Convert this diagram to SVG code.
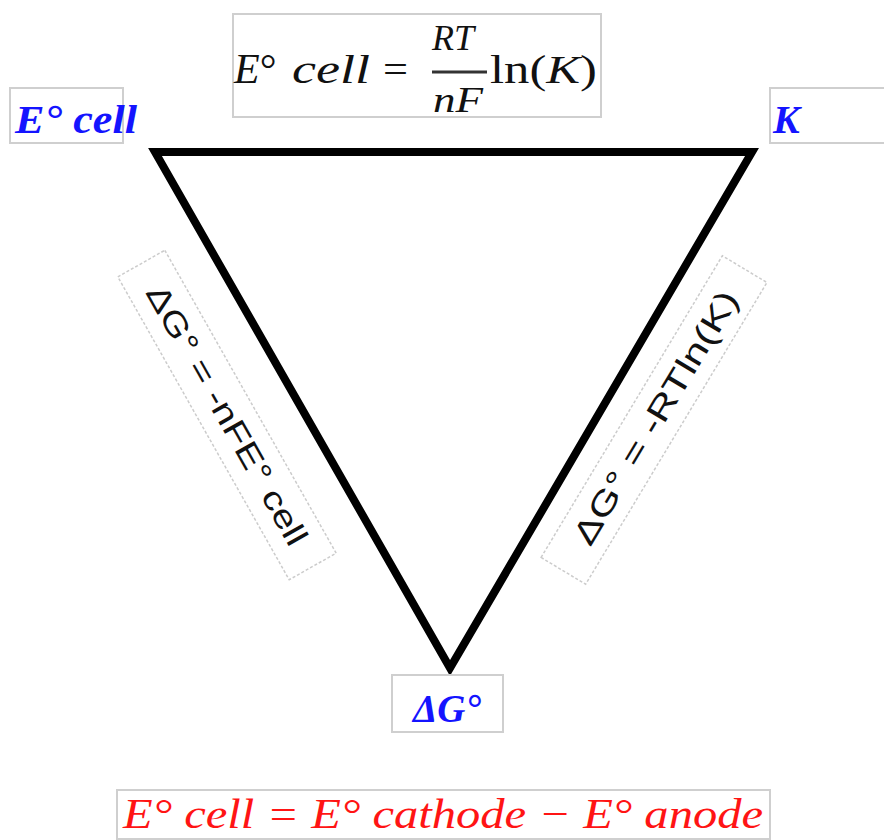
<svg xmlns="http://www.w3.org/2000/svg" width="884" height="840" viewBox="0 0 884 840">
<style>
.box{fill:#ffffff;stroke:#cfcfcf;stroke-width:2}
.dbox{fill:#ffffff;stroke:#cccccc;stroke-width:1.5;stroke-dasharray:3 2}
.math{font-family:"Liberation Serif","DejaVu Serif",serif;fill:#111}
.it{font-style:italic}
.blue{font-family:"Liberation Serif","DejaVu Serif",serif;font-style:italic;font-weight:bold;fill:#1414ff;font-size:40px}
.red{font-family:"Liberation Serif","DejaVu Serif",serif;font-style:italic;fill:#ff1414;font-size:42px}
.sans{font-family:"Liberation Sans","DejaVu Sans",sans-serif;fill:#111;font-size:32px}
</style>
<rect width="884" height="840" fill="#ffffff"/>
<g id="connectors">
<polygon points="155,152 752,152 450,668" fill="none" stroke="#000" stroke-width="8" stroke-linejoin="miter" stroke-miterlimit="10"/>
</g>
<g id="formula-top">
<rect class="box" x="233" y="14" width="368" height="103"/>
<text class="math" x="234" y="83" font-size="42"><tspan class="it">E</tspan>°</text>
<text class="math it" x="292" y="83" font-size="40" textLength="78" lengthAdjust="spacingAndGlyphs">cell</text>
<text class="math" x="383" y="83" font-size="40" textLength="25" lengthAdjust="spacingAndGlyphs">=</text>
<text class="math it" x="432" y="50" font-size="36" textLength="42" lengthAdjust="spacingAndGlyphs">RT</text>
<line x1="432" y1="72" x2="487" y2="72" stroke="#333" stroke-width="3"/>
<text class="math it" x="433" y="112" font-size="36" textLength="50" lengthAdjust="spacingAndGlyphs">nF</text>
<text class="math" x="490" y="83" font-size="40" textLength="107" lengthAdjust="spacingAndGlyphs">ln(<tspan class="it">K</tspan>)</text>
</g>
<g id="node-Ecell">
<rect class="box" x="10" y="88" width="113" height="55"/>
<text class="blue" x="15" y="133" textLength="122" lengthAdjust="spacingAndGlyphs">E° cell</text>
</g>
<g id="node-K">
<rect class="box" x="770" y="88" width="120" height="55"/>
<text class="blue" x="773" y="133">K</text>
</g>
<g id="node-dG">
<rect class="box" x="392" y="675" width="111" height="57"/>
<text class="blue" x="413" y="722" textLength="68" lengthAdjust="spacingAndGlyphs">ΔG°</text>
</g>
<g id="label-left" transform="translate(227,415) rotate(60.5)">
<rect class="dbox" x="-174" y="-27" width="348" height="54"/>
<text class="sans" x="-147" y="11" textLength="294" lengthAdjust="spacingAndGlyphs">ΔG° = -nFE° cell</text>
</g>
<g id="label-right" transform="translate(654,420) rotate(-59)">
<rect class="dbox" x="-176" y="-26" width="352" height="52"/>
<text class="sans" x="-142" y="11" textLength="290" lengthAdjust="spacingAndGlyphs">ΔG° = -RTln(K)</text>
</g>
<g id="formula-bottom">
<rect class="box" x="117" y="790" width="653" height="49"/>
<text class="red" x="123" y="828" textLength="640" lengthAdjust="spacingAndGlyphs">E° cell = E° cathode − E° anode</text>
</g>
</svg>
